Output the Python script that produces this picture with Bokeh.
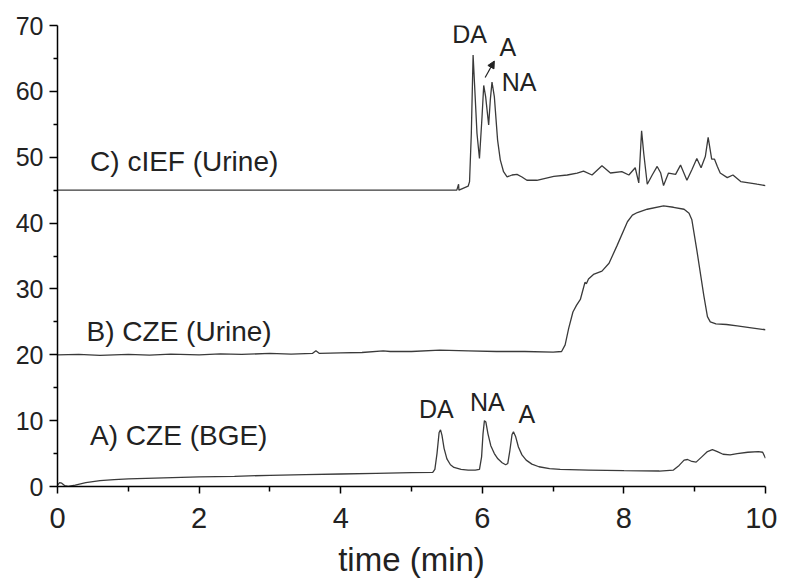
from bokeh.plotting import figure
from bokeh.models import Range1d, FixedTicker, Arrow, NormalHead
from bokeh.core.properties import value
from bokeh.embed import file_html
from bokeh.resources import INLINE

# ---------------- data ----------------
# A) CZE (BGE)
a_time = [0.0, 0.03, 0.06, 0.1, 0.15, 0.25, 0.4, 0.6, 0.8, 1.0, 1.5, 2.0, 2.5, 3.0, 3.5,
          4.0, 4.5, 5.0, 5.3, 5.33, 5.36, 5.39, 5.41, 5.43, 5.46, 5.5, 5.55, 5.6, 5.7,
          5.8, 5.9, 5.96, 5.99, 6.01, 6.03, 6.05, 6.08, 6.12, 6.17, 6.22, 6.28, 6.33,
          6.36, 6.39, 6.42, 6.44, 6.47, 6.51, 6.56, 6.62, 6.7, 6.8, 6.95, 7.1, 7.5, 8.0,
          8.5, 8.7, 8.78, 8.85, 8.9, 8.96, 9.02, 9.1, 9.18, 9.25, 9.32, 9.4, 9.5, 9.6,
          9.75, 9.9, 9.96, 10.0]
a_signal = [0.2, 0.6, 0.5, 0.15, 0.0, 0.2, 0.6, 0.9, 1.05, 1.15, 1.3, 1.45, 1.55, 1.7, 1.8,
            1.9, 2.0, 2.1, 2.15, 2.6, 5.0, 8.2, 8.6, 7.8, 5.8, 4.2, 3.3, 2.9, 2.6,
            2.5, 2.5, 2.6, 4.5, 8.0, 10.0, 9.8, 8.0, 6.2, 5.0, 4.2, 3.6, 3.3,
            3.5, 5.5, 7.9, 8.3, 7.6, 6.0, 4.8, 4.0, 3.4, 3.0, 2.7, 2.6, 2.5, 2.4,
            2.35, 2.5, 3.2, 4.0, 4.1, 3.8, 3.7, 4.5, 5.3, 5.6, 5.3, 4.9, 4.8, 5.0,
            5.2, 5.3, 5.2, 4.3]

# B) CZE (Urine)
b_time = [0.0, 0.3, 0.6, 1.0, 1.3, 1.6, 2.0, 2.3, 2.6, 3.0, 3.3, 3.6, 3.65, 3.7, 4.0, 4.3,
          4.6, 4.7, 5.0, 5.4, 5.8, 6.2, 6.6, 7.0, 7.12, 7.17, 7.22, 7.28, 7.33, 7.385,
          7.42, 7.45, 7.47, 7.5, 7.57, 7.69, 7.79, 7.9, 8.05, 8.12, 8.19, 8.33, 8.56,
          8.7, 8.85, 8.92, 8.96, 9.03, 9.13, 9.18, 9.22, 9.3, 9.45, 9.6, 9.8, 10.0]
b_signal = [20.0, 20.05, 19.9, 20.05, 19.95, 20.1, 20.0, 20.15, 20.05, 20.2, 20.1, 20.2, 20.6,
            20.2, 20.3, 20.35, 20.6, 20.5, 20.5, 20.7, 20.6, 20.5, 20.5, 20.4, 20.5, 21.5,
            24.0, 26.5, 27.5, 28.4, 29.8, 31.0, 30.8, 31.5, 32.2, 32.7, 33.9, 36.5, 40.2,
            41.2, 41.6, 42.1, 42.6, 42.4, 42.1, 41.5, 40.5, 35.9, 28.9, 25.8, 25.0, 24.7,
            24.6, 24.4, 24.1, 23.8]

# C) cIEF (Urine)
c_time = [0.0, 1.0, 2.0, 3.0, 4.0, 5.0, 5.5, 5.64, 5.665, 5.67, 5.8, 5.82, 5.845, 5.87,
          5.89, 5.925, 5.96, 5.996, 6.02, 6.047, 6.09, 6.113, 6.137, 6.17, 6.216, 6.254,
          6.3, 6.35, 6.42, 6.49, 6.56, 6.63, 6.77, 7.01, 7.2, 7.34, 7.43, 7.55, 7.69,
          7.81, 7.97, 8.07, 8.16, 8.21, 8.25, 8.28, 8.33, 8.4, 8.47, 8.52, 8.56, 8.63,
          8.73, 8.8, 8.89, 8.96, 9.03, 9.09, 9.15, 9.19, 9.24, 9.28, 9.32, 9.36, 9.46,
          9.54, 9.65, 9.88, 10.0]
c_signal = [45.0, 45.0, 45.0, 45.0, 45.0, 45.0, 45.0, 45.0, 45.9, 45.0, 45.6, 46.3, 53.6, 65.5,
            61.2, 53.6, 49.8, 56.1, 60.9, 59.2, 54.9, 58.7, 61.4, 59.2, 52.6, 49.6,
            47.8, 47.0, 47.3, 47.4, 47.0, 46.5, 46.5, 47.1, 47.3, 47.6, 47.9, 47.3, 48.7,
            47.6, 47.8, 47.3, 48.4, 46.1, 54.0, 50.6, 45.9, 47.3, 48.6, 47.6, 45.7, 47.6,
            47.4, 48.8, 46.5, 48.1, 49.8, 48.4, 50.1, 53.0, 49.7, 49.7, 48.6, 47.6, 46.9,
            47.3, 46.3, 45.9, 45.7]

# trace titles
title_text = ["C) cIEF (Urine)", "B) CZE (Urine)", "A) CZE (BGE)"]
title_x = [0.46, 0.41, 0.46]
title_y = [49.4, 23.6, 7.7]

# peak labels
peak_text = ["DA", "A", "NA", "DA", "NA", "A"]
peak_x = [5.82, 6.36, 6.52, 5.35, 6.07, 6.63]
peak_y = [68.7, 66.7, 61.4, 11.7, 12.8, 11.0]

# arrow pointing from the second cIEF peak towards its label
arrow_start = (6.04, 62.1)
arrow_end = (6.17, 64.6)

x_ticks = [0, 2, 4, 6, 8, 10]
x_minor = [1, 3, 5, 7, 9]
y_ticks = [0, 10, 20, 30, 40, 50, 60, 70]
y_minor = [5, 15, 25, 35, 45, 55, 65]

# ---------------- figure ----------------
FONT = "Liberation Sans"
LINE = "#3a3a3a"
TXT = "#222222"

p = figure(width=777, height=580, output_backend="svg", toolbar_location=None,
           x_range=Range1d(0, 10), y_range=Range1d(0, 70),
           min_border_left=57, min_border_right=12, min_border_top=25, min_border_bottom=93)
p.outline_line_color = None
p.xgrid.visible = False
p.ygrid.visible = False
p.background_fill_color = "white"
p.border_fill_color = "white"

for src_x, src_y in ((a_time, a_signal), (b_time, b_signal), (c_time, c_signal)):
    p.line(src_x, src_y, line_color=LINE, line_width=1.3)

p.text(x=title_x, y=title_y, text=title_text, text_font=value(FONT),
       text_font_size=value("28px"), text_baseline="middle", text_align="left",
       text_color=TXT)
p.text(x=peak_x, y=peak_y, text=peak_text, text_font=value(FONT),
       text_font_size=value("25px"), text_baseline="middle", text_align="center",
       text_color=TXT)

p.add_layout(Arrow(end=NormalHead(size=7, fill_color=TXT, line_color=TXT),
                   x_start=arrow_start[0], y_start=arrow_start[1],
                   x_end=arrow_end[0], y_end=arrow_end[1],
                   line_color=TXT, line_width=1.2))

xa = p.xaxis[0]
xa.ticker = FixedTicker(ticks=x_ticks, minor_ticks=x_minor)
xa.axis_label = "time (min)"
xa.axis_label_text_font = FONT
xa.axis_label_text_font_size = "33px"
xa.axis_label_text_font_style = "normal"
xa.axis_label_text_color = TXT
xa.axis_label_standoff = 10
xa.major_label_text_font = FONT
xa.major_label_text_font_size = "29px"
xa.major_label_text_color = TXT
xa.major_label_standoff = 14
xa.axis_line_width = 1.5
xa.major_tick_line_width = 1.5
xa.minor_tick_line_width = 1.5
xa.major_tick_out = 7
xa.major_tick_in = 0
xa.minor_tick_out = 5
xa.minor_tick_in = 0

ya = p.yaxis[0]
ya.ticker = FixedTicker(ticks=y_ticks, minor_ticks=y_minor)
ya.major_label_text_font = FONT
ya.major_label_text_font_size = "25px"
ya.major_label_text_color = TXT
ya.major_label_standoff = 6
ya.axis_line_width = 1.5
ya.major_tick_line_width = 1.5
ya.minor_tick_line_width = 1.5
ya.major_tick_out = 8
ya.major_tick_in = 0
ya.minor_tick_out = 4
ya.minor_tick_in = 0

open("out.html", "w").write(file_html(p, INLINE))
